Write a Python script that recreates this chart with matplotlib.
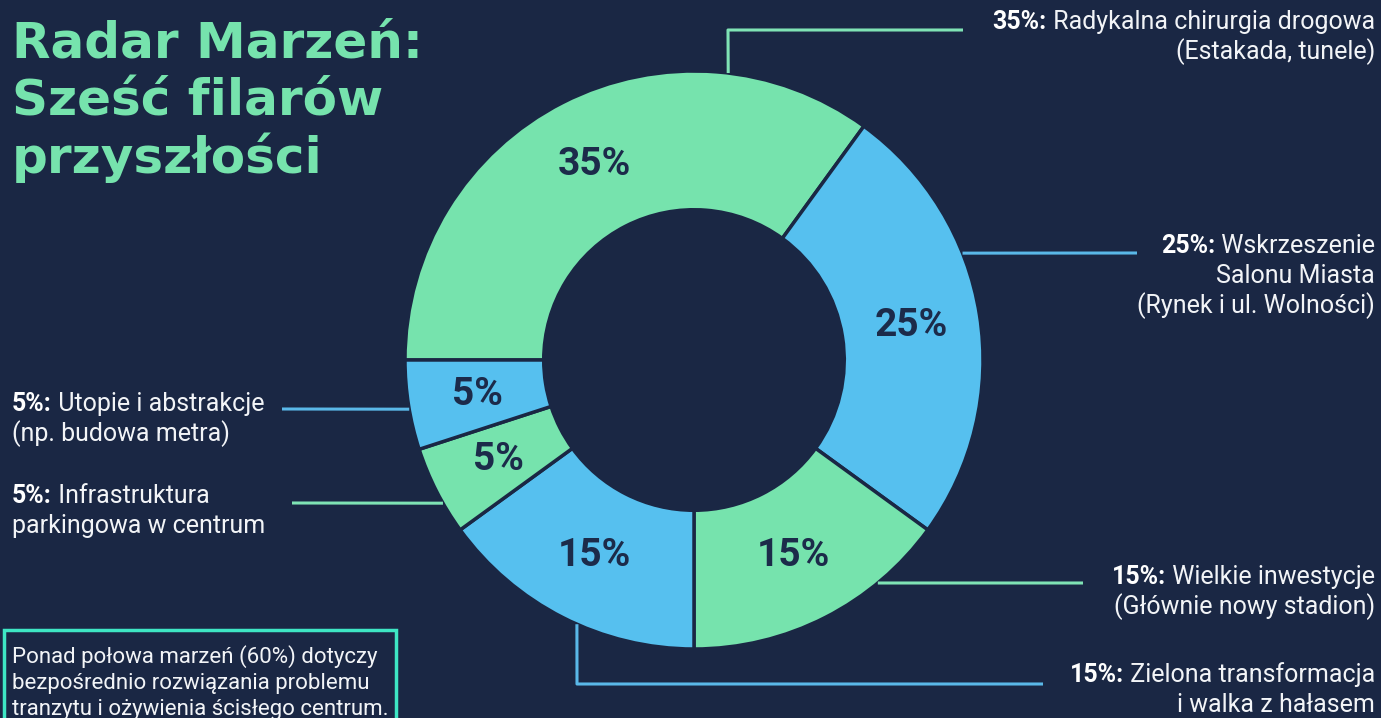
import numpy as np
import matplotlib.pyplot as plt

# data
shares = [35, 25, 15, 15, 5, 5]
slice_colors = ["#76e3ad", "#56c0ef", "#76e3ad", "#56c0ef", "#76e3ad", "#56c0ef"]
titles = ["Radar Marzeń:", "Sześć filarów", "przyszłości"]
label_heads = ["35%:", "25%:", "15%:", "15%:", "5%:", "5%:"]
label_lines = [
    ["Radykalna chirurgia drogowa", "(Estakada, tunele)"],
    ["Wskrzeszenie", "Salonu Miasta", "(Rynek i ul. Wolności)"],
    ["Wielkie inwestycje", "(Głównie nowy stadion)"],
    ["Zielona transformacja", "i walka z hałasem"],
    ["Utopie i abstrakcje", "(np. budowa metra)"],
    ["Infrastruktura", "parkingowa w centrum"],
]
note_lines = [
    "Ponad połowa marzeń (60%) dotyczy",
    "bezpośrednio rozwiązania problemu",
    "tranzytu i ożywienia ścisłego centrum.",
]

BG = "#1a2744"
GREEN_LINE = "#7fe3b5"
BLUE_LINE = "#5ab8e8"
W, H = 1381, 718

plt.rcParams["font.family"] = ["Roboto", "DejaVu Sans"]

fig = plt.figure(figsize=(W / 100, H / 100), dpi=100, facecolor=BG)
ax = fig.add_axes([0, 0, 1, 1])
ax.set_facecolor(BG)


def Y(y):
    # pixel row (from top) -> data y
    return H - y


cx, cy, R = 694, Y(360), 289
wedges, _, autotexts = ax.pie(
    shares, colors=slice_colors, startangle=180, counterclock=False,
    center=(cx, cy), radius=R, autopct="%d%%", pctdistance=0.76,
    wedgeprops=dict(width=R * 0.48, edgecolor=BG, linewidth=2.5),
    textprops=dict(color="#1c2b4a", fontsize=28, fontweight="bold"),
    frame=True,
)
ax.set_xlim(0, W)
ax.set_ylim(0, H)
ax.axis("off")


def rim(angle):
    a = np.deg2rad(angle)
    return cx + R * np.cos(a), cy + R * np.sin(a)


# leader lines: anchor angle on rim, then path points (pixels)
leaders = [
    (83.2, [(728, 30), (963, 30)], GREEN_LINE),
    (21.7, [(1137, 253)], BLUE_LINE),
    (-50.5, [(1083, 583)], GREEN_LINE),
    (-113.9, [(577, 684), (1043, 684)], BLUE_LINE),
    (189.8, [(282, 409)], BLUE_LINE),
    (209.7, [(292, 503)], GREEN_LINE),
]
for ang, pts, col in leaders:
    x0, y0 = rim(ang)
    xs = [x0] + [p[0] for p in pts]
    ys = [y0] + [Y(p[1]) for p in pts]
    ax.plot(xs, ys, color=col, lw=2.2, solid_capstyle="butt", zorder=1)

# title
for i, t in enumerate(titles):
    ax.text(12, Y(57 + 58 * i), t, color="#76e3ad", fontsize=36,
            fontweight="bold", family=["DejaVu Sans"], va="baseline", ha="left")

fig.canvas.draw()
renderer = fig.canvas.get_renderer()

LBL = 18
# right side labels (right aligned)
right_specs = [(0, 29), (1, 253), (2, 584), (3, 682)]
for idx, base in right_specs:
    lines = label_lines[idx]
    t = ax.text(1375, Y(base), " " + lines[0], color="#f2f4f7", fontsize=LBL,
                ha="right", va="baseline")
    bb = t.get_window_extent(renderer)
    ax.text(bb.x0, Y(base), label_heads[idx], color="#ffffff", fontsize=LBL,
            fontweight="bold", ha="right", va="baseline")
    for j, ln in enumerate(lines[1:], start=1):
        ax.text(1375, Y(base + 30 * j), ln, color="#f2f4f7", fontsize=LBL,
                ha="right", va="baseline")

# left side labels (left aligned)
left_specs = [(4, 411), (5, 503)]
for idx, base in left_specs:
    lines = label_lines[idx]
    h = ax.text(12, Y(base), label_heads[idx], color="#ffffff", fontsize=LBL,
                fontweight="bold", ha="left", va="baseline")
    bb = h.get_window_extent(renderer)
    ax.text(bb.x1, Y(base), " " + lines[0], color="#f2f4f7", fontsize=LBL,
            ha="left", va="baseline")
    for j, ln in enumerate(lines[1:], start=1):
        ax.text(12, Y(base + 30 * j), ln, color="#f2f4f7", fontsize=LBL,
                ha="left", va="baseline")

# note box
box = plt.Rectangle((4, Y(740)), 392, 110, facecolor=BG, edgecolor="#3ee6c4",
                    linewidth=2.5, zorder=2)
ax.add_patch(box)
for i, ln in enumerate(note_lines):
    ax.text(12, Y(663 + 26 * i), ln, color="#f2f4f7", fontsize=16,
            ha="left", va="baseline", zorder=3)

fig.savefig("out.png", dpi=100, facecolor=BG)
